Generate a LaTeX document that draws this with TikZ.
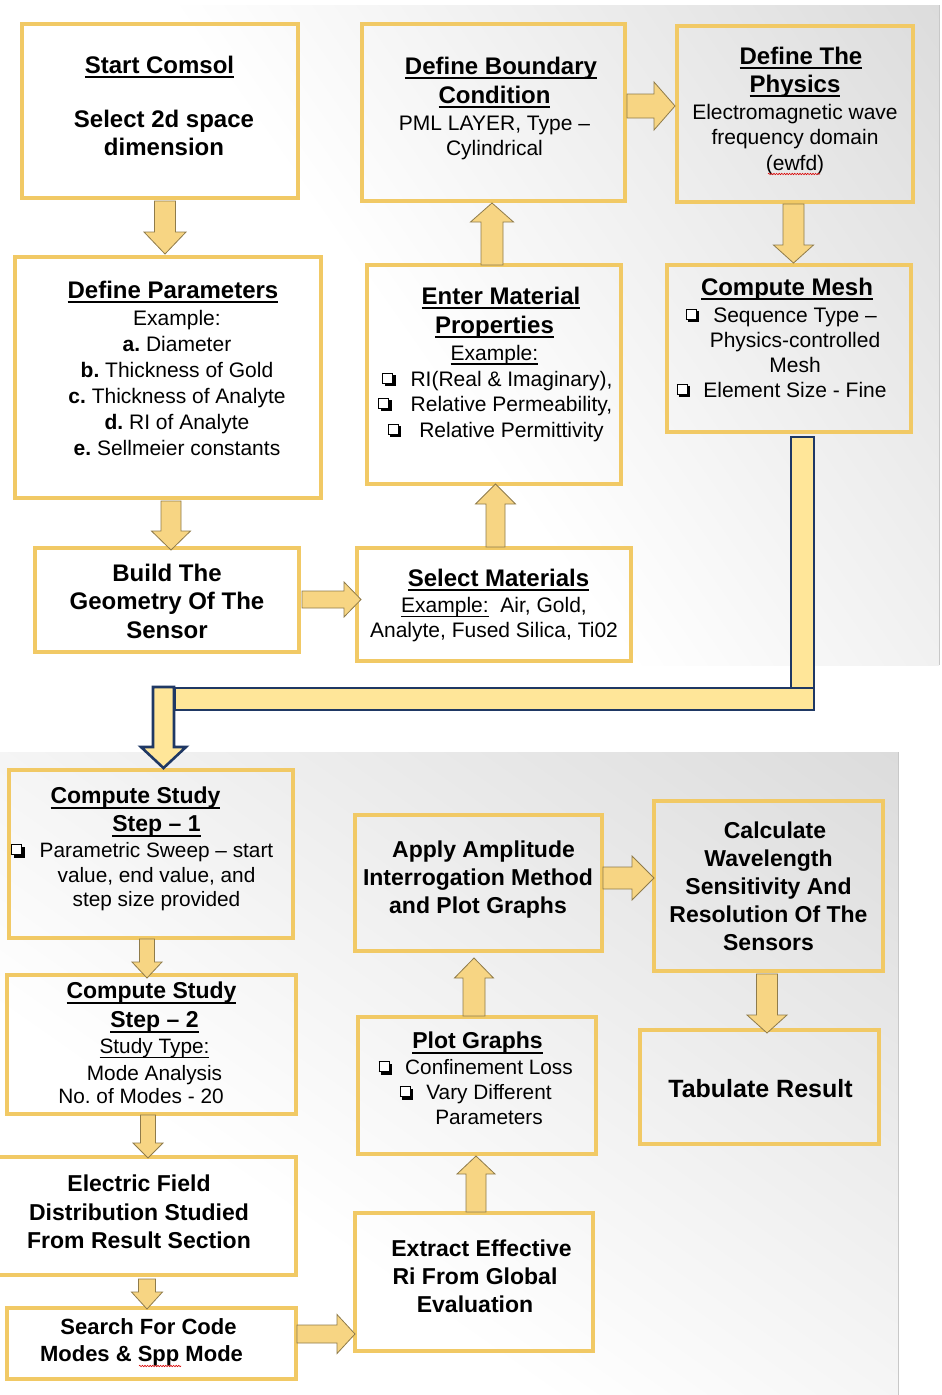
\documentclass[tikz,border=0pt]{standalone}
\usepackage{fontspec}
\setmainfont{Liberation Sans}
\usetikzlibrary{calc,decorations.pathmorphing}
\frenchspacing

\definecolor{boxc}{HTML}{F1C965}
\definecolor{arrf}{HTML}{F7D583}
\definecolor{arrd}{HTML}{8F7B4A}
\definecolor{conf}{HTML}{FFE699}
\definecolor{cond}{HTML}{1F3864}
\definecolor{bgg}{HTML}{DCDCDC}
\definecolor{bgline}{HTML}{C8C8C8}

\pgfdeclarehorizontalshading{bgtop}{100bp}{color(0bp)=(white); color(47.5bp)=(white); color(75bp)=(bgg); color(100bp)=(bgg)}
\pgfdeclarehorizontalshading{bgbot}{100bp}{color(0bp)=(white); color(40bp)=(white); color(75bp)=(bgg); color(100bp)=(bgg)}

\newcommand\myul[1]{\leavevmode\setbox0\hbox{#1}\rlap{\rule[-5pt]{\wd0}{2pt}}\box0}
\newcommand\myulr[1]{\leavevmode\setbox0\hbox{#1}\rlap{\rule[-4.5pt]{\wd0}{1.4pt}}\box0}
% check box with drop shadow (like the Wingdings box bullet)
\newcommand\cbox{\makebox[13.5pt][l]{%
  \rlap{\hspace*{2.5pt}\rule{11pt}{11pt}}%
  \rlap{\textcolor{white}{\rule[2.5pt]{11pt}{11pt}}}%
  \rlap{\rule[2.5pt]{11pt}{1.1pt}}%
  \rlap{\rule[12.4pt]{11pt}{1.1pt}}%
  \rlap{\rule[2.5pt]{1.1pt}{11pt}}%
  \rlap{\hspace*{9.9pt}\rule[2.5pt]{1.1pt}{11pt}}}}
\newcommand\cb[1][15pt]{\llap{\cbox\hspace{#1}}}
\newcommand\fR{\fontsize{21}{26}\selectfont}
\newcommand\fRb{\fontsize{20.8}{25}\selectfont}
\newcommand\HT[1]{{\fontsize{24}{26}\selectfont\bfseries\myul{#1}}}
\newcommand\HB[1]{{\fontsize{23}{25}\selectfont\bfseries\myul{#1}}}

% box: name, x1, y1, x2, y2
\newcommand\BX[5]{\node[box, minimum width={(#4-(#2))*1pt}, minimum height={(#5-(#3))*1pt}] (#1) at ({(#2+#4)/2},{(#3+#5)/2}) {};}
% block arrow: [style] name, start, end, shaft half, head half, head length
\newcommand\BA[7][barrow]{%
  \coordinate (#2s) at (#3);
  \coordinate (#2e) at (#4);
  \coordinate (#2c) at ($(#2e)!#7!(#2s)$);
  \draw[#1] ($(#2s)!#5!90:(#2e)$) -- ($(#2c)!#5!90:(#2e)$) -- ($(#2c)!#6!90:(#2e)$) -- (#2e)
     -- ($(#2c)!#6!-90:(#2e)$) -- ($(#2c)!#5!-90:(#2e)$) -- ($(#2s)!#5!-90:(#2e)$) -- cycle;}

\begin{document}
\begin{tikzpicture}[x=1pt,y=-1pt,
  box/.style={rectangle, draw=boxc, line width=4pt, inner sep=0pt, outer sep=0pt},
  txt/.style={inner sep=0pt, outer sep=0pt, anchor=north, align=center, text=black},
  barrow/.style={fill=arrf, draw=arrd, line width=0.8pt, line join=miter},
  bigc/.style={fill=conf, draw=cond, line width=2.6pt, line join=miter},
  squig/.style={draw=red!85!black, line width=0.6pt, decorate, decoration={snake, amplitude=0.7pt, segment length=2.6pt}}]
\useasboundingbox (0,0) rectangle (942,1395);
\fill[white] (0,0) rectangle (942,1395);

% backgrounds
\begin{scope}
  \clip (0,5) rectangle (939,665);
  \shade[shading=bgtop, shading angle=35] (-105,-239.5) rectangle ++(1149,1149);
\end{scope}
\draw[bgline, line width=0.8pt] (939,5) -- (939,665);
\begin{scope}
  \clip (0,752) rectangle (898,1395);
  \shade[shading=bgbot, shading angle=55] (-72,552.5) rectangle ++(1042,1042);
\end{scope}
\draw[bgline, line width=0.8pt] (898,752) -- (898,1395);

% boxes
\BX{start}{22}{24}{298}{198}
\BX{boundary}{362}{24}{625}{201}
\BX{physics}{677}{26}{913}{202}
\BX{defpar}{15}{257}{321}{498}
\BX{entmat}{367}{265}{621}{484}
\BX{mesh}{667}{265}{911}{432}
\BX{build}{35}{548}{299}{652}
\BX{selmat}{357}{548}{631}{661}
\BX{step1}{9}{770}{293}{938}
\BX{step2}{7}{975}{296}{1114}
\BX{electric}{-4}{1157}{296}{1275}
\BX{search}{7}{1308}{296}{1379}
\BX{extract}{355}{1213}{593}{1351}
\BX{plot}{358}{1017}{596}{1154}
\BX{apply}{355}{815}{602}{951}
\BX{calc}{654}{801}{883}{971}
\BX{tab}{640}{1030}{879}{1144}

% big connector from Compute Mesh to Compute Study Step 1
\coordinate (cv1) at ($(mesh.south)+(2,5)$);
\coordinate (cv2) at ($(mesh.south)+(25,256)$);
\draw[bigc] (cv1) rectangle (cv2);
\draw[bigc] ($(step1.north)+(24,-82)$) rectangle ($(cv2)+(0,22)$);
\BA[bigc]{cs}{$(step1.north)+(12.5,-83)$}{$(css |- step1.north)+(0,-2)$}{10.5pt}{22.5pt}{21pt}

% block arrows
\BA{a1}{$(start.south)+(5,3)$}{$(a1s |- defpar.north)+(0,-3)$}{10.5pt}{21pt}{22pt}
\BA{a2}{$(defpar.south)+(3,3)$}{$(a2s |- build.north)+(0,2)$}{10pt}{19.5pt}{19pt}
\BA{a3}{$(build.east)+(3,-0.5)$}{$(a3s -| selmat.west)+(4,0)$}{8.5pt}{17.5pt}{17pt}
\BA{a4}{$(selmat.north)+(1.5,-1)$}{$(a4s |- entmat.south)$}{9.5pt}{20pt}{20pt}
\BA{a5}{$(entmat.north)+(-2,0)$}{$(a5s |- boundary.south)+(0,2)$}{11pt}{21.5pt}{19pt}
\BA{a6}{$(boundary.east)+(2,-6.5)$}{$(a6s -| physics.west)+(-2,0)$}{12pt}{24pt}{21pt}
\BA{a7}{$(physics.south)+(-1.5,2)$}{$(a7s |- mesh.north)+(0,-2)$}{10.5pt}{20pt}{18pt}
\BA{a8}{$(step1.south)+(-4,1)$}{$(a8s |- step2.north)+(0,3)$}{7.5pt}{15pt}{16pt}
\BA{a9}{$(step2.south)+(-3.5,1)$}{$(a9s |- electric.north)+(0,1)$}{7.5pt}{15pt}{15pt}
\BA{a10}{$(electric.south)+(1,4)$}{$(a10s |- search.north)+(0,1)$}{8.5pt}{15.5pt}{17pt}
\BA{a11}{$(search.east)+(1,-9.5)$}{$(a11s -| extract.west)$}{9pt}{19.5pt}{18pt}
\BA{a12}{$(extract.north)+(2,-1)$}{$(a12s |- plot.south)+(0,2)$}{10pt}{19pt}{18pt}
\BA{a13}{$(plot.north)+(-3,-1)$}{$(a13s |- apply.south)+(0,7)$}{11pt}{19.5pt}{20pt}
\BA{a14}{$(apply.east)+(1,-5)$}{$(a14s -| calc.west)$}{11pt}{22pt}{22pt}
\BA{a15}{$(calc.south)+(-1.5,3)$}{$(a15s |- tab.north)+(0,3)$}{10.5pt}{20pt}{18pt}

% texts (top panel)
\node[txt, font=\fontsize{24}{28}\selectfont\bfseries] (tstart) at (164,56)
  {\myul{Start Comsol}\hspace*{9pt}\\[26pt]Select 2d space\\dimension};
\node[txt, font=\fR] (tbound) at (494.5,57)
  {\hspace*{13pt}\HT{Define Boundary}\\[3pt]\HT{Condition}\\[1pt]PML LAYER, Type –\\[-1pt]Cylindrical};
\node[txt, font=\fR] (tphys) at (795,47)
  {\hspace*{12pt}\HT{Define The}\\[2pt]\HT{Physics}\\[1pt]Electromagnetic wave\\[-1pt]frequency domain\\(ewfd)};
\node[txt, font=\fR] (tmesh) at (795,278)
  {\HT{Compute Mesh}\hspace*{16pt}\\[1pt]\cb[14pt]Sequence Type –\\[-1pt]Physics-controlled\\[-1pt]Mesh\\[-1pt]\cb[13pt]Element Size - Fine};
\node[txt, font=\fR] (tdefpar) at (177,281)
  {\HT{Define Parameters}\hspace*{8pt}\\[1pt]Example:\\\textbf{a.} Diameter\\\textbf{b.} Thickness of Gold\\\textbf{c.} Thickness of Analyte\\\textbf{d.} RI of Analyte\\\textbf{e.} Sellmeier constants};
\node[txt, font=\fR] (tentmat) at (494.5,287)
  {\hspace*{13pt}\HT{Enter Material}\\[3pt]\HT{Properties}\\[1pt]\myulr{Example:}\\\hspace*{34pt}\cb RI(Real \& Imaginary),\\[-1pt]\hspace*{34pt}\cb[19pt]Relative Permeability,\\\hspace*{34pt}\cb[18pt]Relative Permittivity};
\node[txt, font=\fontsize{24}{28.5}\selectfont\bfseries] (tbuild) at (167,564)
  {Build The\\Geometry Of The\\Sensor};
\node[txt, font=\fontsize{21}{25.5}\selectfont] (tselmat) at (494,569)
  {\hspace*{9pt}\HT{Select Materials}\\[0.5pt]\myulr{Example:}\ \ Air, Gold,\\Analyte, Fused Silica, Ti02};

% texts (bottom panel)
\node[txt, font=\fRb] (tstep1) at (156.5,787)
  {\HB{Compute Study}\hspace*{42pt}\\[3pt]\HB{Step – 1}\\[1pt]\cb Parametric Sweep – start\\value, end value, and\\[-1pt]step size provided};
\node[txt, font=\fRb] (tstep2) at (154.5,982)
  {\HB{Compute Study}\hspace*{6pt}\\[4pt]\HB{Step – 2}\\[1pt]\myulr{Study Type:}\\[2pt]Mode Analysis\hspace*{9pt}\\[-2pt]No. of Modes - 20\hspace*{27pt}};
\node[txt, font=\fontsize{23}{28}\selectfont\bfseries] (tapply) at (478,841)
  {\hspace*{11pt}Apply Amplitude\\Interrogation Method\\and Plot Graphs};
\node[txt, font=\fRb] (tplot) at (477.5,1032)
  {\HB{Plot Graphs}\\[1pt]\hspace*{23pt}\cb[13pt]Confinement Loss\\\hspace*{23pt}\cb[13pt]Vary Different\\\hspace*{23pt}Parameters};
\node[txt, font=\fontsize{23}{28}\selectfont\bfseries] (tcalc) at (768.5,822)
  {\hspace*{13pt}Calculate\\Wavelength\\Sensitivity And\\Resolution Of The\\Sensors};
\node[txt, font=\fontsize{25}{28}\selectfont\bfseries] (ttab) at (760.5,1079) {Tabulate Result};
\node[txt, font=\fontsize{23}{28.5}\selectfont\bfseries] (telec) at (139,1175)
  {Electric Field\\Distribution Studied\\From Result Section};
\node[txt, font=\fontsize{22}{27}\selectfont\bfseries] (tsearch) at (145,1319)
  {\hspace*{7pt}Search For Code\\Modes \& Spp Mode\hspace*{7pt}};
\node[txt, font=\fontsize{23}{28}\selectfont\bfseries] (textract) at (475,1240)
  {\hspace*{13pt}Extract Effective\\Ri From Global\\Evaluation};

% spell-check squiggles
\draw[squig] (768,174) -- (820,174);
\draw[squig] (139,1366) -- (181,1366);
\end{tikzpicture}
\end{document}
